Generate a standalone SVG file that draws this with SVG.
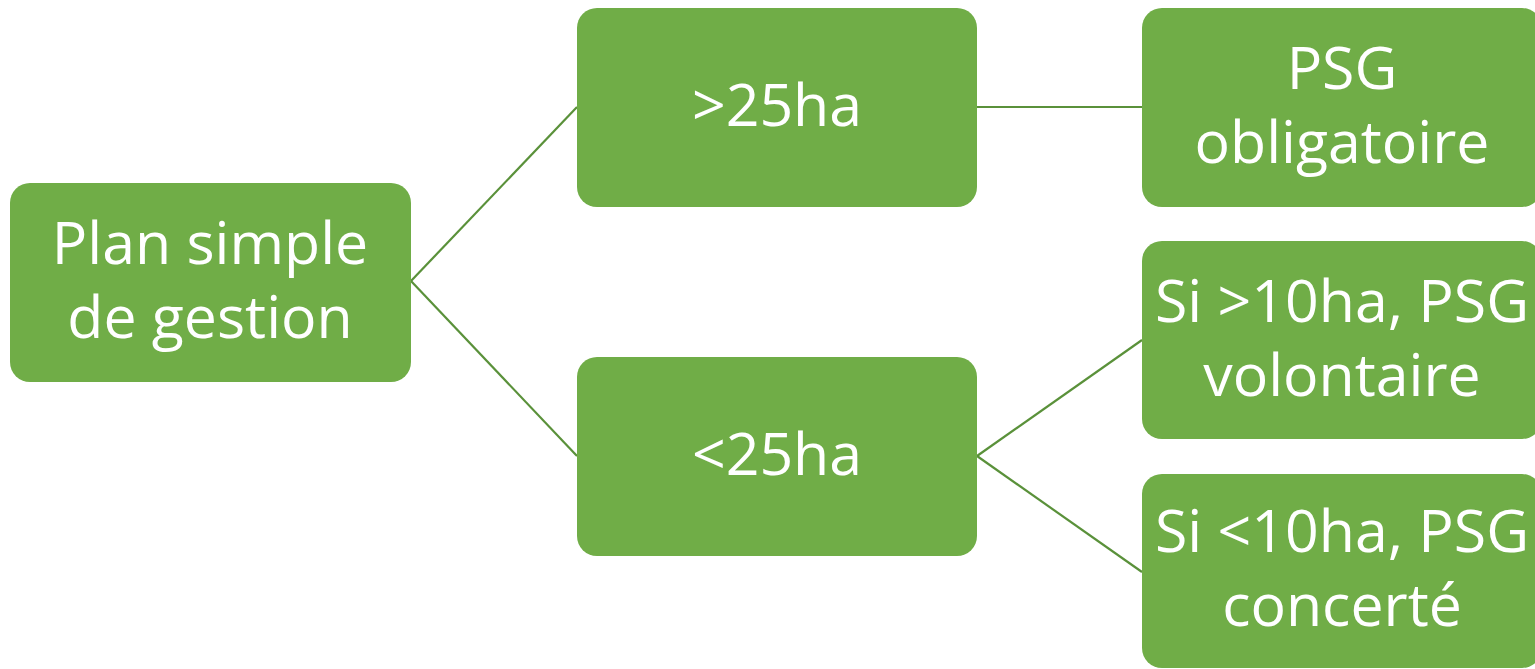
<svg xmlns="http://www.w3.org/2000/svg" width="1535" height="669" viewBox="0 0 1535 669">
<style>
.box{fill:#70AD47;}
.t{font-family:"Open Sans","Liberation Sans",sans-serif;font-size:59px;fill:#ffffff;text-anchor:middle;}
.c{stroke:#5A913A;stroke-width:2.2;fill:none;}
</style>
<rect width="1535" height="669" fill="#ffffff"/>
<g id="connectors">
<line class="c" x1="411" y1="281" x2="577" y2="107"/>
<line class="c" x1="411" y1="281" x2="577" y2="456"/>
<line class="c" x1="977" y1="107" x2="1142" y2="107"/>
<line class="c" x1="977" y1="456" x2="1142" y2="340"/>
<line class="c" x1="977" y1="456" x2="1142" y2="572"/>
</g>
<g id="node-plan">
<rect class="box" x="10" y="183" width="401" height="199" rx="20"/>
<text class="t" x="210" y="264">Plan simple</text>
<text class="t" x="210" y="338">de gestion</text>
</g>
<g id="node-gt25">
<rect class="box" x="577" y="8" width="400" height="199" rx="20"/>
<text class="t" x="777" y="126">&gt;25ha</text>
</g>
<g id="node-lt25">
<rect class="box" x="577" y="357" width="400" height="199" rx="20"/>
<text class="t" x="777" y="475">&lt;25ha</text>
</g>
<g id="node-obligatoire">
<rect class="box" x="1142" y="8" width="400" height="199" rx="20"/>
<text class="t" x="1342" y="89">PSG</text>
<text class="t" x="1342" y="163">obligatoire</text>
</g>
<g id="node-volontaire">
<rect class="box" x="1142" y="241" width="400" height="198" rx="20"/>
<text class="t" x="1342" y="322">Si &gt;10ha, PSG</text>
<text class="t" x="1342" y="396">volontaire</text>
</g>
<g id="node-concerte">
<rect class="box" x="1142" y="474" width="400" height="194" rx="20"/>
<text class="t" x="1342" y="552">Si &lt;10ha, PSG</text>
<text class="t" x="1342" y="626">concerté</text>
</g>
</svg>
